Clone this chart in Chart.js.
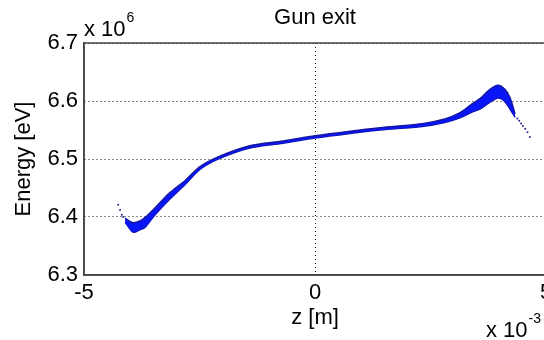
<!DOCTYPE html>
<html>
<head>
<meta charset="utf-8">
<script src="https://cdn.jsdelivr.net/npm/chart.js@4.4.1/dist/chart.umd.min.js"></script>
<style>
  html, body { margin: 0; padding: 0; background: #fff; overflow: hidden; }
  #wrap { position: relative; width: 560px; height: 340px; }
</style>
</head>
<body>
<div id="wrap"><canvas id="gunExit"></canvas></div>
<script>
// z in units of 1e-3 m, energy in units of 1e6 eV
var zBand  = [-4.11, -3.94, -3.79, -3.68, -3.46, -3.14, -2.81, -2.49, -2.06, -1.41, -0.69, 0.00, 0.76, 1.41, 2.32, 2.81, 3.14, 3.40, 3.57, 3.77, 3.96, 4.11, 4.22, 4.33];
var eUpper = [6.398, 6.390, 6.393, 6.399, 6.416, 6.442, 6.463, 6.487, 6.505, 6.523, 6.531, 6.540, 6.548, 6.554, 6.561, 6.569, 6.580, 6.595, 6.604, 6.619, 6.627, 6.620, 6.606, 6.578];
var eLower = [6.391, 6.374, 6.378, 6.382, 6.404, 6.431, 6.456, 6.482, 6.501, 6.519, 6.527, 6.536, 6.544, 6.550, 6.556, 6.563, 6.571, 6.581, 6.586, 6.597, 6.605, 6.599, 6.586, 6.572];

// sparse particles at both ends of the bunch
var zTail = [-4.26, -4.22, -4.18, -4.15, 4.38, 4.42, 4.46, 4.50, 4.55, 4.60, 4.65];
var eTail = [6.421, 6.412, 6.404, 6.400, 6.570, 6.566, 6.561, 6.557, 6.552, 6.546, 6.538];

var zTicks = [-5, 0, 5];
var eTicks = [6.3, 6.4, 6.5, 6.6, 6.7];

var FONT = '"Liberation Sans", Arial, sans-serif';
var BLUE_EDGE = 'rgb(22,22,165)';
var BLUE_FILL = 'rgb(8,22,245)';

function toPoints(xs, ys) {
  return xs.map(function(x, i) { return { x: x, y: ys[i] }; });
}

// box around the axes plus the MATLAB-style exponent labels
var axesExtras = {
  id: 'axesExtras',
  afterDraw: function(chart) {
    var ctx = chart.ctx, a = chart.chartArea;
    ctx.save();
    ctx.strokeStyle = '#444';
    ctx.lineWidth = 1.5;
    ctx.strokeRect(a.left, a.top, a.right - a.left, a.bottom - a.top);

    ctx.fillStyle = '#000';
    ctx.textBaseline = 'alphabetic';
    ctx.textAlign = 'left';

    ctx.font = '22px ' + FONT;
    ctx.fillText('x 10', a.left, a.top - 7);
    var w = ctx.measureText('x 10').width;
    ctx.font = '14px ' + FONT;
    ctx.fillText('6', a.left + w + 1, a.top - 21);

    ctx.font = '22px ' + FONT;
    ctx.fillText('x 10', a.right - 60, a.bottom + 62);
    w = ctx.measureText('x 10').width;
    ctx.font = '14px ' + FONT;
    ctx.fillText('-3', a.right - 60 + w + 1, a.bottom + 48);
    ctx.restore();
  }
};

var gridStyle = {
  color: '#111',
  lineWidth: 1,
  drawTicks: false,
  tickLength: 0
};

new Chart(document.getElementById('gunExit'), {
  type: 'line',
  data: {
    datasets: [
      {
        label: 'upper',
        data: toPoints(zBand, eUpper),
        borderColor: BLUE_EDGE,
        backgroundColor: BLUE_FILL,
        borderWidth: 1.5,
        pointRadius: 0,
        tension: 0.3,
        fill: '+1'
      },
      {
        label: 'lower',
        data: toPoints(zBand, eLower),
        borderColor: BLUE_EDGE,
        borderWidth: 1.5,
        pointRadius: 0,
        tension: 0.3,
        fill: false
      },
      {
        type: 'scatter',
        label: 'tail',
        data: toPoints(zTail, eTail),
        backgroundColor: 'rgb(40,40,150)',
        borderWidth: 0,
        pointRadius: 1
      }
    ]
  },
  options: {
    responsive: true,
    maintainAspectRatio: false,
    animation: false,
    layout: { padding: { left: 0, right: 14, top: 0, bottom: 0 } },
    plugins: {
      legend: { display: false },
      tooltip: { enabled: false },
      title: {
        display: true,
        text: 'Gun exit',
        fullSize: false,
        color: '#000',
        font: { family: FONT, size: 22, weight: 'normal' },
        padding: { top: 5, bottom: 11.6 }
      }
    },
    scales: {
      x: {
        type: 'linear',
        min: -5,
        max: 5,
        afterBuildTicks: function(axis) {
          axis.ticks = zTicks.map(function(v) { return { value: v }; });
        },
        afterFit: function(axis) { axis.height = 65; },
        ticks: {
          color: '#000',
          padding: 5,
          font: { family: FONT, size: 22 },
          callback: function(v) { return String(v); }
        },
        grid: Object.assign({}, gridStyle),
        border: { display: true, color: '#444', width: 1.5, dash: [1, 3] },
        title: {
          display: true,
          text: 'z [m]',
          color: '#000',
          font: { family: FONT, size: 22 },
          padding: { top: 0, bottom: 9 }
        }
      },
      y: {
        min: 6.3,
        max: 6.7,
        afterBuildTicks: function(axis) {
          axis.ticks = eTicks.map(function(v) { return { value: v }; });
        },
        afterFit: function(axis) { axis.width = 84; },
        ticks: {
          color: '#000',
          padding: 6,
          font: { family: FONT, size: 22 },
          callback: function(v) { return v.toFixed(1); }
        },
        grid: Object.assign({}, gridStyle),
        border: { display: true, color: '#444', width: 1.5, dash: [1, 3] },
        title: {
          display: true,
          text: 'Energy [eV]',
          color: '#000',
          font: { family: FONT, size: 22 },
          padding: { top: 11, bottom: 0 }
        }
      }
    }
  },
  plugins: [axesExtras]
});
</script>
</body>
</html>
